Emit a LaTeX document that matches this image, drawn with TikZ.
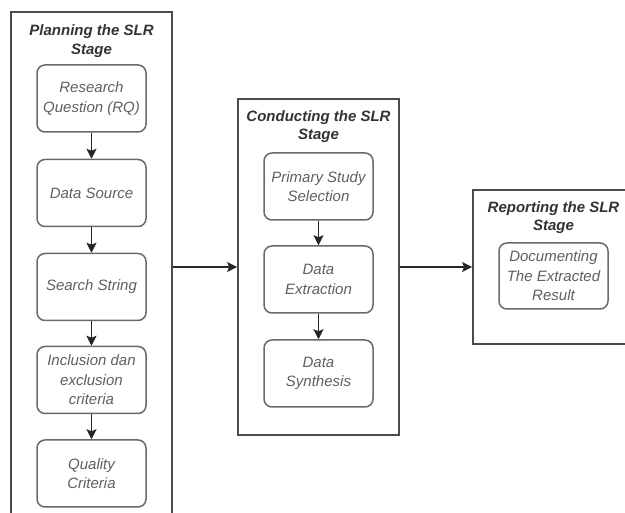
\documentclass[tikz,border=0pt]{standalone}
\usepackage{fontspec}
\setmainfont{Liberation Sans}
\usetikzlibrary{positioning,arrows.meta}
\definecolor{FrameGray}{RGB}{75,75,75}
\definecolor{BoxGray}{RGB}{105,105,105}
\definecolor{TextGray}{RGB}{95,95,95}

\begin{document}
\begin{tikzpicture}[x=1pt, y=-1pt,
  stage/.style={draw=FrameGray, line width=1.8pt, minimum width=161pt, inner sep=0pt},
  stagetitle/.style={font=\fontsize{15}{18.5}\selectfont\bfseries\itshape, text=black!80, align=center},
  task/.style={draw=BoxGray, line width=1.5pt, rounded corners=8pt, minimum width=109pt, minimum height=67pt, inner sep=1pt, font=\fontsize{15}{19.5}\selectfont\itshape, text=TextGray, align=center},
  flow/.style={-{Stealth[length=10pt, width=10pt, inset=2pt]}, line width=1.4pt, black!85}]
  \useasboundingbox (0,0) rectangle (625,513);
  \clip (0,0) rectangle (625,513);
  % planning stage
  \node[stage, minimum height=510pt] (plan) at (91.5,267) {};
  \node[stagetitle] (plantitle) at (91.5,41) {Planning the SLR\\Stage};
  \node[task] (rq) at (91.5,98.5) {Research\\Question (RQ)};
  \node[task] (source) at (91.5,193) {Data Source};
  \node[task] (string) at (91.5,287) {Search String};
  \node[task] (criteria) at (91.5,380) {Inclusion dan\\exclusion\\criteria};
  \node[task] (quality) at (91.5,473.5) {Quality\\Criteria};
  % conducting stage
  \node[stage, minimum height=336pt] (conduct) at (318.5,267) {};
  \node[stagetitle] (conducttitle) at (318.5,126.5) {Conducting the SLR\\Stage};
  \node[task] (selection) at (318.5,186.5) {Primary Study\\Selection};
  \node[task] (extraction) at (318.5,279.5) {Data\\Extraction};
  \node[task] (synthesis) at (318.5,373.5) {Data\\Synthesis};
  % reporting stage
  \node[stage, minimum height=154pt] (report) at (553.5,267) {};
  \node[stagetitle] (reporttitle) at (553.5,217.5) {Reporting the SLR\\Stage};
  \node[task, minimum height=66pt] (documenting) at (553.5,276) {Documenting\\The Extracted\\Result};
  % connectors
  \draw[flow] (rq) -- (source);
  \draw[flow] (source) -- (string);
  \draw[flow] (string) -- (criteria);
  \draw[flow] (criteria) -- (quality);
  \draw[flow] (selection) -- (extraction);
  \draw[flow] (extraction) -- (synthesis);
  \draw[flow] (plan) -- (conduct);
  \draw[flow] (conduct) -- (report);
\end{tikzpicture}
\end{document}
